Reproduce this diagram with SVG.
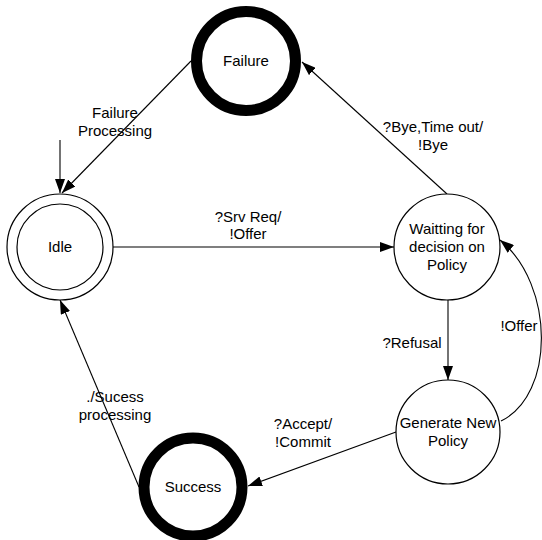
<svg xmlns="http://www.w3.org/2000/svg" width="542" height="540" viewBox="0 0 542 540">
<defs>
<style>
.n{fill:#fff;stroke:#000;stroke-width:1.2}
.b{fill:#fff;stroke:#000;stroke-width:11}
.t{font-family:"Liberation Sans",Arial,sans-serif;font-size:15px;fill:#000;text-anchor:middle}
.c{fill:none;stroke:#000;stroke-width:1.1}
</style>
<marker id="a" markerUnits="userSpaceOnUse" markerWidth="14" markerHeight="10" refX="14" refY="5" orient="auto">
<path d="M0,0 L14,5 L0,10 z" fill="#000"/>
</marker>
</defs>
<rect width="542" height="540" fill="#fff"/>
<g id="connectors">
<line class="c" x1="60" y1="140" x2="60" y2="193" marker-end="url(#a)"/>
<line class="c" x1="191" y1="61" x2="62" y2="193" marker-end="url(#a)"/>
<line class="c" x1="113" y1="247" x2="394" y2="247" marker-end="url(#a)"/>
<line class="c" x1="447" y1="194" x2="302" y2="62" marker-end="url(#a)"/>
<line class="c" x1="448" y1="300" x2="448" y2="380" marker-end="url(#a)"/>
<path class="c" d="M501,421 C555,395 555,285 500,240" marker-end="url(#a)"/>
<line class="c" x1="396" y1="432" x2="248" y2="486" marker-end="url(#a)"/>
<line class="c" x1="139" y1="487" x2="60" y2="300" marker-end="url(#a)"/>
<text class="t" x="115" y="118">Failure</text>
<text class="t" x="115" y="136">Processing</text>
<text class="t" x="248" y="222">?Srv Req/</text>
<text class="t" x="248" y="239">!Offer</text>
<text class="t" x="433" y="132">?Bye,Time out/</text>
<text class="t" x="433" y="150">!Bye</text>
<text class="t" x="412" y="348">?Refusal</text>
<text class="t" x="519" y="331">!Offer</text>
<text class="t" x="303" y="429">?Accept/</text>
<text class="t" x="303" y="447">!Commit</text>
<text class="t" x="115" y="402">./Sucess</text>
<text class="t" x="115" y="420">processing</text>
</g>
<g id="failure">
<circle class="b" cx="246" cy="61" r="49.5"/>
<text class="t" x="246" y="66">Failure</text>
</g>
<g id="idle">
<circle class="n" cx="60" cy="247" r="53"/>
<circle class="n" cx="60" cy="247" r="43"/>
<text class="t" x="60" y="252">Idle</text>
</g>
<g id="waiting">
<circle class="n" cx="447" cy="247" r="53"/>
<text class="t" x="447" y="234">Waitting for</text>
<text class="t" x="447" y="252">decision on</text>
<text class="t" x="447" y="270">Policy</text>
</g>
<g id="generate">
<circle class="n" cx="448" cy="432" r="52"/>
<text class="t" x="448" y="428">Generate New</text>
<text class="t" x="448" y="446">Policy</text>
</g>
<g id="success">
<circle class="b" cx="193" cy="487" r="49"/>
<text class="t" x="193" y="492">Success</text>
</g>
</svg>
